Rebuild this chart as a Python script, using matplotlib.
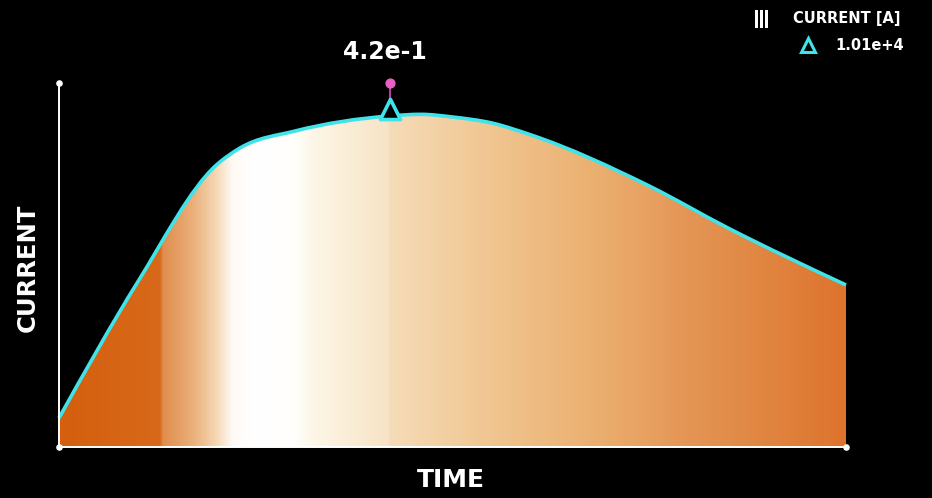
import numpy as np
import matplotlib
matplotlib.use("Agg")
import matplotlib.pyplot as plt
from matplotlib.colors import LinearSegmentedColormap
from matplotlib.path import Path
from matplotlib.patches import PathPatch, Rectangle

# ---- data ----
time = [0.00, 0.10, 0.20, 0.23, 0.30, 0.42, 0.46, 0.50, 0.55, 0.60, 0.75, 0.85, 1.00]
current = [885, 5034, 8604, 9122, 9641, 10100, 10150, 10068, 9885, 9519, 7963, 6682, 4943]
peak_x = 0.42
peak_y = 10100
peak_label = "4.2e-1"
legend_title = "CURRENT [A]"
legend_value = "1.01e+4"
x_label = "TIME"
y_label = "CURRENT"

grad_stops = [
    (0.000, "#d45f0e"), (0.128, "#d8691a"), (0.132, "#e08e4e"), (0.170, "#eaaf7a"),
    (0.200, "#f6d8b5"), (0.220, "#fffaf5"), (0.250, "#ffffff"), (0.300, "#fffefb"),
    (0.325, "#fdf6e6"), (0.418, "#f7e3c6"), (0.421, "#f5dcb8"), (0.550, "#f0c590"),
    (0.680, "#ebb070"), (0.800, "#e49555"), (0.900, "#e08540"), (1.000, "#dd732d"),
]


def monotone_path(x, y):
    """Bezier path for a monotone-x cubic curve through the points."""
    x = np.asarray(x, float)
    y = np.asarray(y, float)
    n = len(x)
    h = np.diff(x)
    s = np.diff(y) / h
    m = np.zeros(n)
    for i in range(1, n - 1):
        if s[i - 1] * s[i] > 0:
            p = (s[i - 1] * h[i] + s[i] * h[i - 1]) / (h[i - 1] + h[i])
            m[i] = np.sign(s[i - 1]) * min(2 * min(abs(s[i - 1]), abs(s[i])), abs(p))
    m[0] = (3 * s[0] - m[1]) / 2
    m[-1] = (3 * s[-1] - m[-2]) / 2
    verts = [(x[0], y[0])]
    codes = [Path.MOVETO]
    for i in range(n - 1):
        dx = h[i] / 3
        verts += [(x[i] + dx, y[i] + m[i] * dx), (x[i + 1] - dx, y[i + 1] - m[i + 1] * dx),
                  (x[i + 1], y[i + 1])]
        codes += [Path.CURVE4] * 3
    return verts, codes


W, H = 932, 498
fig = plt.figure(figsize=(W / 100, H / 100), dpi=100, facecolor="black")
ax = fig.add_axes([59 / W, (H - 447) / H, (846 - 59) / W, (447 - 83) / H])
ax.set_facecolor("black")
ymax = 11106
ax.set_xlim(0, 1)
ax.set_ylim(0, ymax)
for s in ax.spines.values():
    s.set_visible(False)
ax.set_xticks([])
ax.set_yticks([])

cv, cc = monotone_path(time, current)

# gradient fill clipped to area
cmap = LinearSegmentedColormap.from_list("g", grad_stops, N=1024)
grad = np.linspace(0, 1, 1024).reshape(1, -1)
im = ax.imshow(grad, cmap=cmap, extent=[0, 1, 0, ymax], aspect="auto",
               origin="lower", zorder=1, interpolation="bilinear")
area_verts = [(time[0], 0)] + cv + [(time[-1], 0), (time[0], 0)]
area_codes = [Path.MOVETO, Path.LINETO] + cc[1:] + [Path.LINETO, Path.CLOSEPOLY]
area = PathPatch(Path(area_verts, area_codes), facecolor="none", edgecolor="none",
                 transform=ax.transData)
ax.add_patch(area)
im.set_clip_path(area)

# line
line = PathPatch(Path(cv, cc), facecolor="none", edgecolor="#3fe3ea", lw=2.6,
                 zorder=3, clip_on=False)
ax.add_patch(line)

# axes lines with end dots
ax.plot([0, 0], [0, ymax], color="white", lw=1.4, zorder=4, clip_on=False)
ax.plot([0, 1], [0, 0], color="white", lw=1.4, zorder=4, clip_on=False)
ax.scatter([0, 0, 1], [ymax, 0, 0], s=14, color="white", zorder=5, clip_on=False)

# peak marker
ax.plot([peak_x, peak_x], [peak_y, ymax], color="#b040a0", lw=1.5, zorder=4,
        clip_on=False)
ax.scatter([peak_x], [ymax], s=40, color="#e85fc8", zorder=6, clip_on=False)
ax.scatter([peak_x], [peak_y + 200], marker="^", s=210, facecolor="black",
           edgecolor="#3fe3ea", linewidths=2.6, zorder=7, clip_on=False)
fig.text(385 / W, 1 - 52 / H, peak_label, color="white", fontsize=17,
         fontweight="bold", ha="center", va="center", family="DejaVu Sans")

# axis labels
fig.text(451 / W, 1 - 480 / H, x_label, color="white", fontsize=18,
         fontweight="bold", ha="center", va="center", family="DejaVu Sans")
fig.text(28 / W, 1 - 268 / H, y_label, color="white", fontsize=17.5,
         fontweight="bold", ha="center", va="center", rotation=90,
         family="DejaVu Sans")

# legend
for bx in (755, 760, 765):
    fig.patches.append(Rectangle((bx / W, 1 - 28 / H), 3 / W, 18 / H,
                                 facecolor="white", edgecolor="none",
                                 transform=fig.transFigure, figure=fig))
fig.text(793 / W, 1 - 19 / H, legend_title, color="white", fontsize=10.5,
         fontweight="bold", ha="left", va="center", family="DejaVu Sans")
fig.text(835 / W, 1 - 45 / H, legend_value, color="white", fontsize=10.5,
         fontweight="bold", ha="left", va="center", family="DejaVu Sans")
fig.add_artist(plt.Line2D([808 / W], [1 - 45 / H], marker="^", markersize=10,
                          markerfacecolor="black", markeredgecolor="#3fe3ea",
                          markeredgewidth=2.2, transform=fig.transFigure))

fig.savefig("out.png", dpi=100, facecolor="black")
